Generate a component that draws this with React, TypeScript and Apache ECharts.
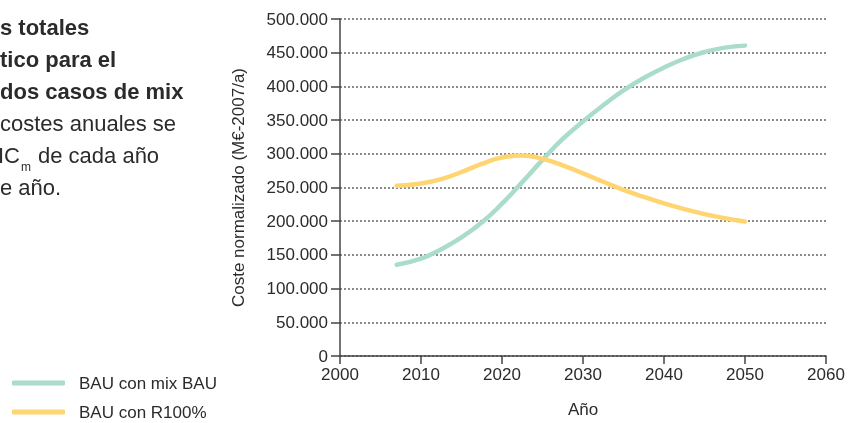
import React, { useEffect, useRef } from "react";
import * as echarts from "echarts";

const years = [2007, 2010, 2012.5, 2015, 2017.5, 2020, 2022.5, 2025, 2027.5, 2030, 2032.5, 2035, 2037.5, 2040, 2042.5, 2045, 2047.5, 2050];
const bauMixBau = [135500, 144500, 158500, 176000, 198000, 226000, 258000, 291000, 322000, 348000, 372000, 394000, 412500, 428000, 441000, 451000, 457500, 460500];
const bauR100 = [252500, 256000, 262500, 273000, 285000, 294500, 297300, 292500, 283000, 271000, 258500, 246500, 236000, 226500, 218000, 210500, 204500, 199500];
const seriesNames = ["BAU con mix BAU", "BAU con R100%"];
const seriesColors = ["#a9dcc9", "#ffd571"];

const FONT = "Liberation Sans";
const TXT = "#2b2b2b";

function fmtThousands(v: number): string {
  if (v === 0) return "0";
  const s = String(Math.round(v));
  return s.replace(/\B(?=(\d{3})+(?!\d))/g, ".");
}

export default function App() {
  const ref = useRef<HTMLDivElement>(null);
  useEffect(() => {
    if (!ref.current) return;
    const chart = echarts.init(ref.current, null, { renderer: "svg" });
    const textBase = { fontFamily: FONT, fill: TXT };
    chart.setOption({
      animation: false,
      grid: { left: 340, right: 23, top: 19, bottom: 64, containLabel: false },
      legend: {
        orient: "vertical",
        left: 12,
        top: 374,
        padding: 0,
        itemWidth: 53,
        itemHeight: 5,
        itemGap: 11,
        icon: "roundRect",
        data: seriesNames,
        textStyle: { fontFamily: FONT, fontSize: 17, color: TXT, lineHeight: 18, padding: [0, 0, 0, 9] },
      },
      xAxis: {
        type: "value",
        min: 2000,
        max: 2060,
        interval: 10,
        name: "Año",
        nameLocation: "middle",
        nameGap: 45,
        nameTextStyle: { fontFamily: FONT, fontSize: 17, color: TXT },
        axisLine: { show: true, lineStyle: { color: "#444", width: 1.5 } },
        axisTick: { show: true, length: 8, lineStyle: { color: "#444", width: 1.5 } },
        axisLabel: { margin: 10, fontFamily: FONT, fontSize: 17, color: TXT, formatter: (v: number) => String(v) },
        splitLine: { show: false },
      },
      yAxis: {
        type: "value",
        min: 0,
        max: 500000,
        interval: 50000,
        name: "Coste normalizado (M€-2007/a)",
        nameLocation: "middle",
        nameGap: 93,
        nameTextStyle: { fontFamily: FONT, fontSize: 17, color: TXT },
        axisLine: { show: true, lineStyle: { color: "#444", width: 1.5 } },
        axisTick: { show: true, length: 9, lineStyle: { color: "#444", width: 1.5 } },
        axisLabel: { margin: 12, fontFamily: FONT, fontSize: 17, color: TXT, formatter: fmtThousands },
        splitLine: { show: true, lineStyle: { color: "#666", width: 1.5, type: [2, 2] } },
      },
      series: [
        {
          name: seriesNames[0],
          type: "line",
          smooth: 0.5,
          symbol: "none",
          data: years.map((y, i) => [y, bauMixBau[i]]),
          lineStyle: { color: seriesColors[0], width: 4.5, cap: "round" },
          itemStyle: { color: seriesColors[0] },
        },
        {
          name: seriesNames[1],
          type: "line",
          smooth: 0.5,
          symbol: "none",
          data: years.map((y, i) => [y, bauR100[i]]),
          lineStyle: { color: seriesColors[1], width: 4.5, cap: "round" },
          itemStyle: { color: seriesColors[1] },
        },
      ],
      graphic: [
        { type: "text", x: 0, y: 27, style: { ...textBase, text: "s totales", fontSize: 22, fontWeight: "bold", verticalAlign: "middle" } },
        { type: "text", x: 0, y: 59, style: { ...textBase, text: "tico para el", fontSize: 22, fontWeight: "bold", verticalAlign: "middle" } },
        { type: "text", x: 0, y: 91, style: { ...textBase, text: "dos casos de mix", fontSize: 22, fontWeight: "bold", verticalAlign: "middle" } },
        { type: "text", x: 0, y: 123, style: { ...textBase, text: "costes anuales se", fontSize: 22, verticalAlign: "middle" } },
        { type: "text", x: -2, y: 155, style: { ...textBase, text: "IC", fontSize: 22, verticalAlign: "middle" } },
        { type: "text", x: 21, y: 167, style: { ...textBase, text: "m", fontSize: 12, verticalAlign: "middle" } },
        { type: "text", x: 38, y: 155, style: { ...textBase, text: "de cada año", fontSize: 22, verticalAlign: "middle" } },
        { type: "text", x: 0, y: 187, style: { ...textBase, text: "e año.", fontSize: 22, verticalAlign: "middle" } },
      ],
    });
    return () => chart.dispose();
  }, []);
  return <div ref={ref} style={{ width: 849, height: 423, position: "fixed", left: 0, top: 0 }} />;
}
